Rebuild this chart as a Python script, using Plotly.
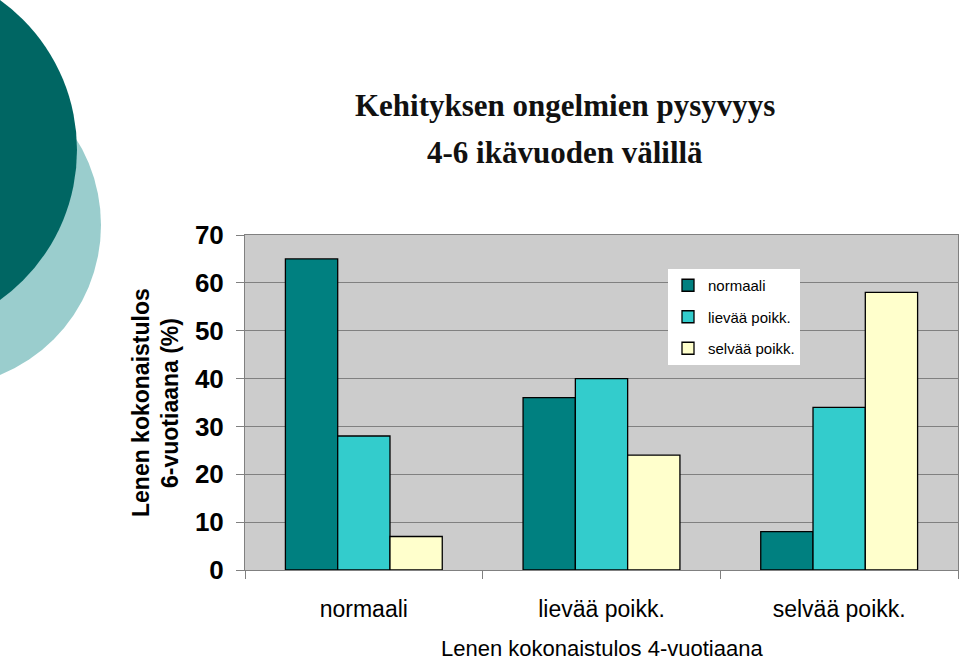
import plotly.graph_objects as go

categories = ["normaali", "lievää poikk.", "selvää poikk."]
series_names = ["normaali", "lievää poikk.", "selvää poikk."]
normaali = [65, 36, 8]
lievaa = [28, 40, 34]
selvaa = [7, 24, 58]
y_ticks = [0, 10, 20, 30, 40, 50, 60, 70]
colors = ["#008080", "#33CCCC", "#FFFFCC"]

W, H = 960, 662
L, R, T, B = 245, 958, 235, 570


def px(x):
    return (x - L) / (R - L)


def py(y):
    return (B - y) / (B - T)


fig = go.Figure()
for i, (name, vals) in enumerate(zip(series_names, [normaali, lievaa, selvaa])):
    fig.add_trace(go.Bar(
        x=categories, y=vals, name=name, legendgroup=f"g{i}",
        marker=dict(color=colors[i], line=dict(color="#000000", width=1.3)),
    ))

shapes = []
# decorative circles (background)
for (cx, cy, r, col) in [(-60.9, 225, 161.9, "#9ACDCD"), (-107.6, 150, 184.6, "#006663")]:
    shapes.append(dict(type="circle", xref="paper", yref="paper",
                       x0=px(cx - r), x1=px(cx + r), y0=py(cy + r), y1=py(cy - r),
                       fillcolor=col, line=dict(width=0), layer="below"))


def ann(text, x, y, size, family="Liberation Sans", angle=0, color="#000000"):
    return dict(text=text, x=px(x), y=py(y), xref="paper", yref="paper",
                xanchor="center", yanchor="middle", showarrow=False, textangle=angle,
                font=dict(family=family, size=size, color=color))


annotations = [
    ann("<b>Kehityksen ongelmien pysyvyys</b>", 565, 106, 31, "Liberation Serif", color="#111111"),
    ann("<b>4-6 ikävuoden välillä</b>", 565, 152, 31, "Liberation Serif", color="#111111"),
    ann("<b>Lenen kokonaistulos</b>", 141, 403, 23, angle=-90),
    ann("<b>6-vuotiaana (%)</b>", 170, 403, 23, angle=-90),
    ann("Lenen kokonaistulos 4-vuotiaana", 602, 648, 22),
]

fig.update_layout(
    width=W, height=H,
    margin=dict(l=L, r=W - R, t=T, b=H - B),
    paper_bgcolor="#FFFFFF",
    plot_bgcolor="#CCCCCC",
    barmode="group",
    bargap=0.34,
    bargroupgap=0,
    showlegend=True,
    legend=dict(x=px(668), y=py(269), xanchor="left", yanchor="top",
                bgcolor="#FFFFFF", borderwidth=0, tracegroupgap=9, itemwidth=30,
                font=dict(family="Liberation Sans", size=15, color="#000000"),
                traceorder="grouped"),
    shapes=shapes,
    annotations=annotations,
    xaxis=dict(
        showgrid=False, showline=True, linecolor="#808080", linewidth=1, mirror=True,
        ticks="outside", tickson="boundaries", ticklen=8, tickcolor="#808080",
        tickfont=dict(family="Liberation Sans", size=23, color="#000000"),
        ticklabelstandoff=18,
    ),
    yaxis=dict(
        range=[0, 70], tickvals=y_ticks, ticktext=[str(v) for v in y_ticks],
        showgrid=True, gridcolor="#808080", gridwidth=1, zeroline=False,
        showline=True, linecolor="#808080", linewidth=1, mirror=True,
        ticks="outside", ticklen=8, tickcolor="#808080",
        tickfont=dict(family="Liberation Sans", size=26, color="#000000", weight="bold"),
        ticklabelstandoff=7,
    ),
)

fig.write_html("out.html")
